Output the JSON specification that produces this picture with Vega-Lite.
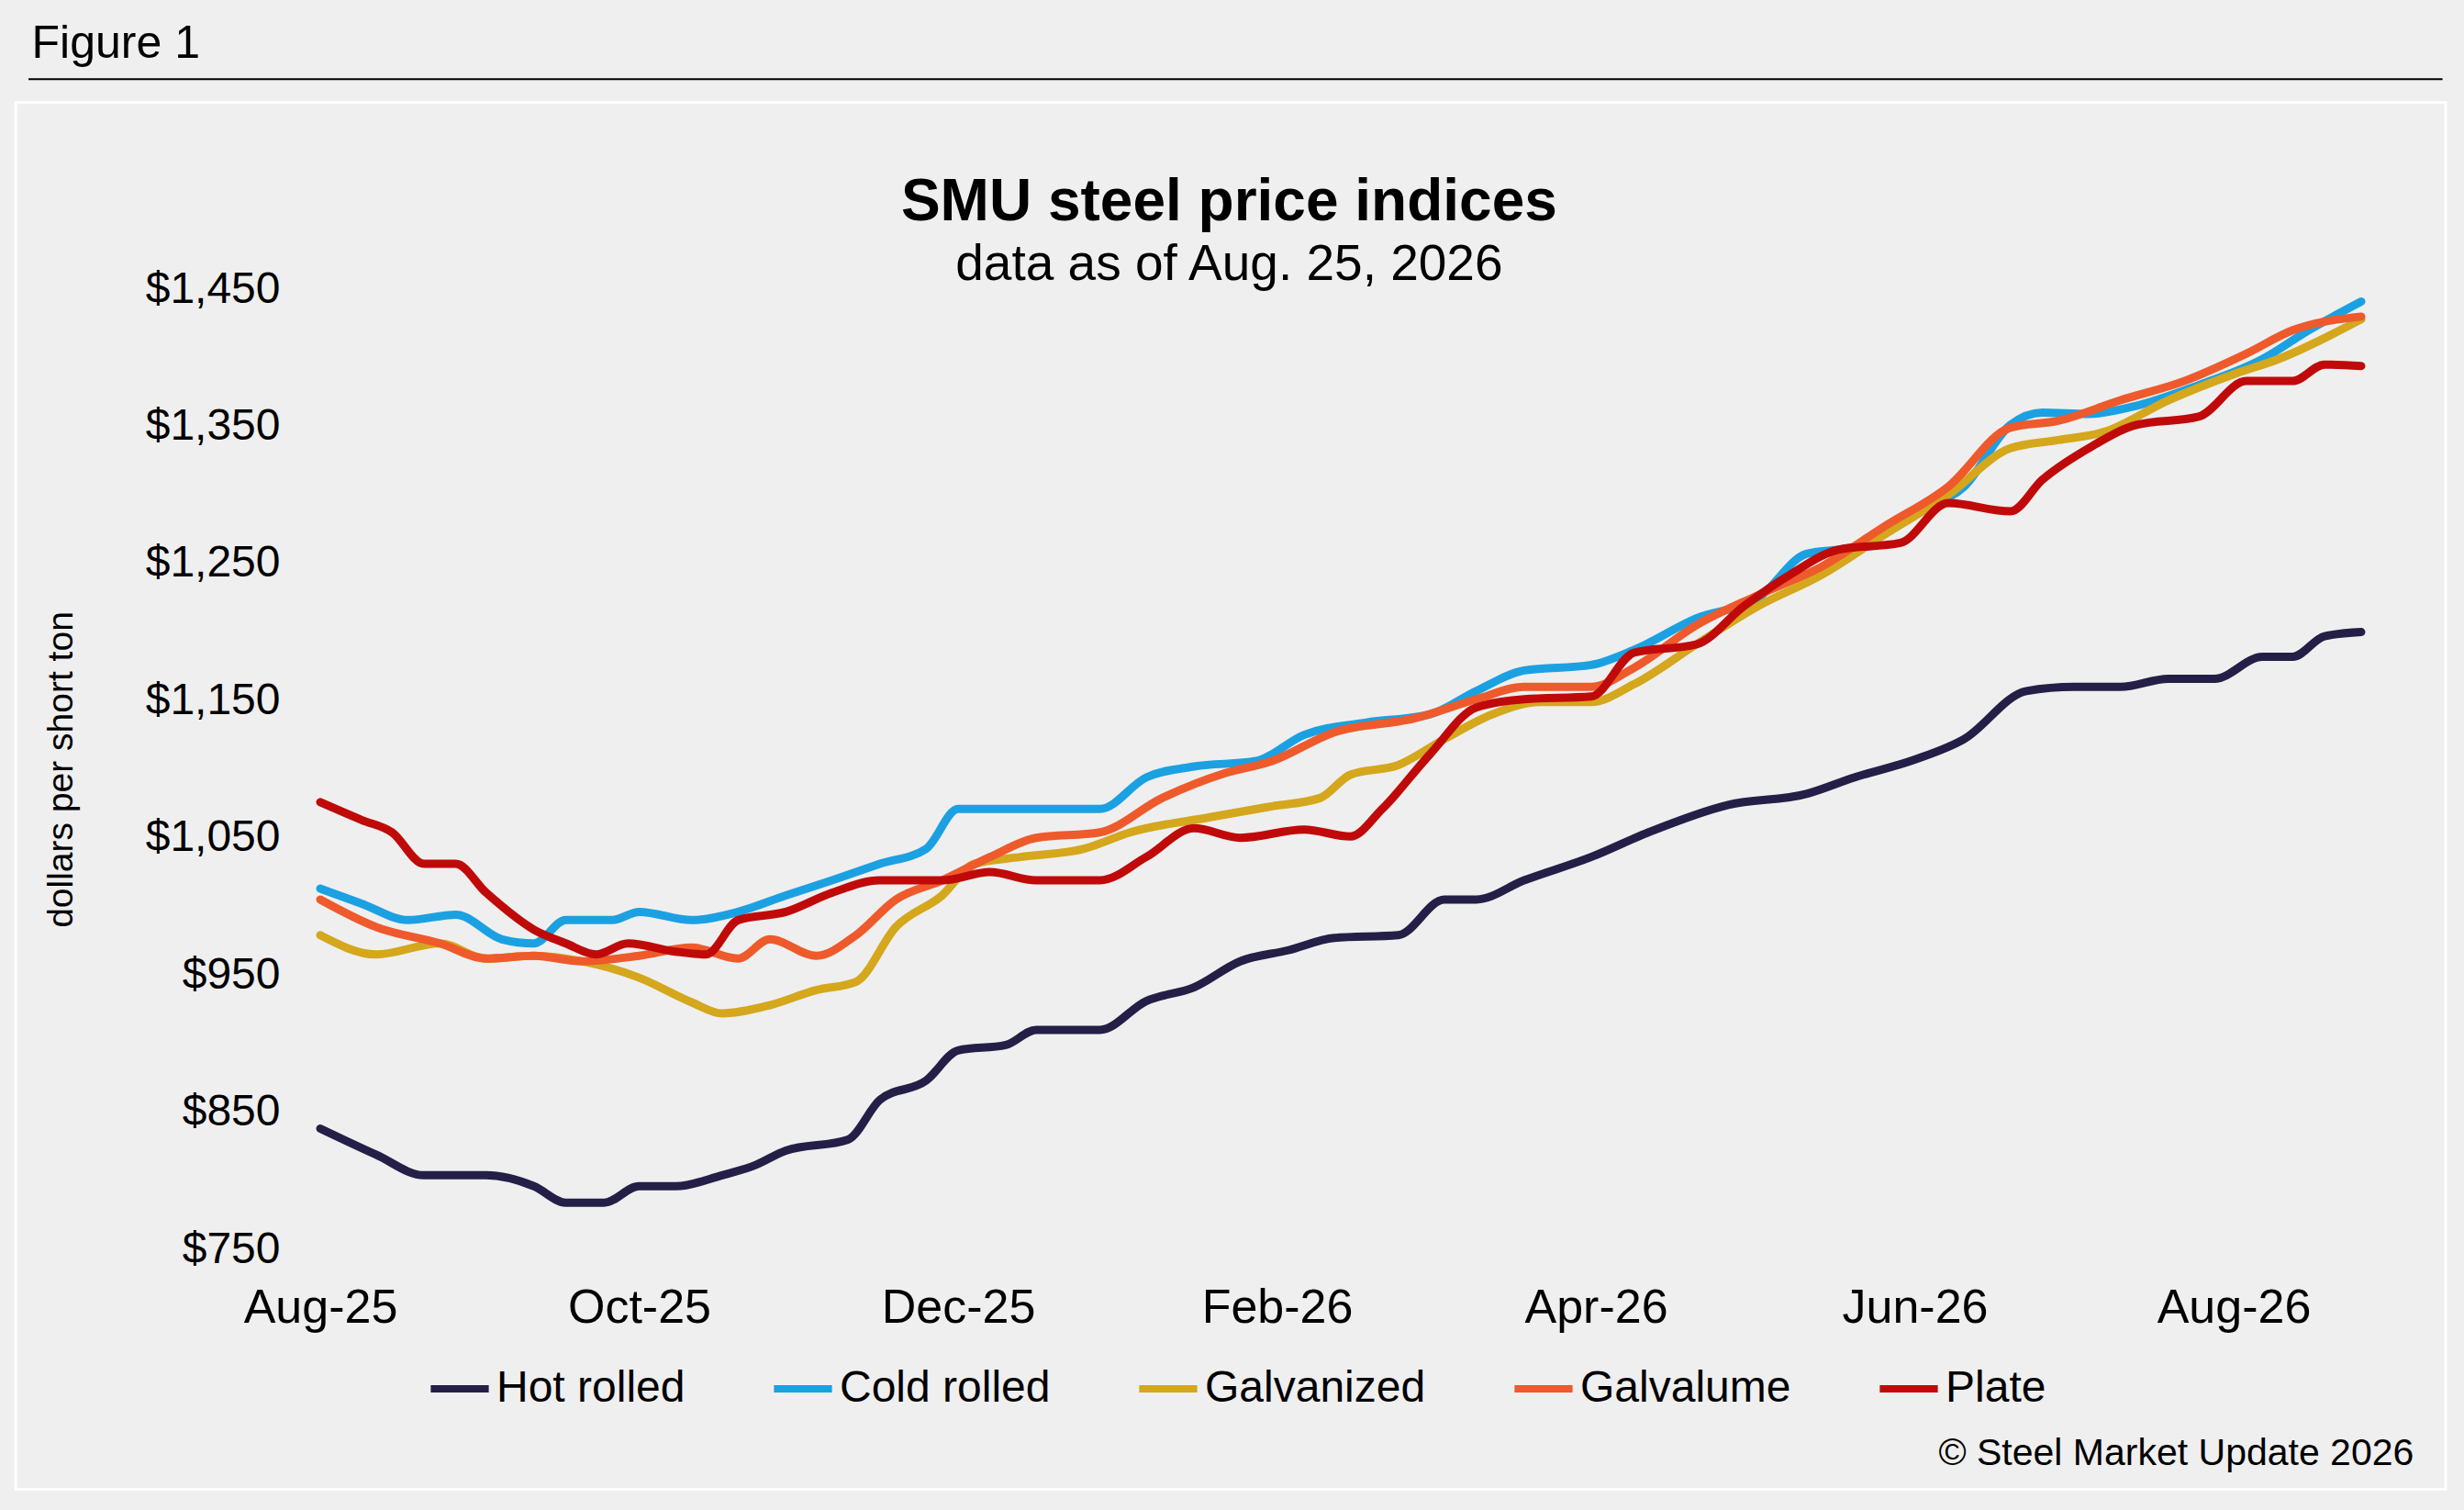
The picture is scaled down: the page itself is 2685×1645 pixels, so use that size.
{
  "$schema": "https://vega.github.io/schema/vega-lite/v6.json",
  "width": 2224,
  "height": 1046,
  "autosize": {"type": "none"},
  "padding": {"left": 349, "top": 315, "right": 112, "bottom": 284},
  "background": "#efefef",
  "config": {
    "font": "Liberation Sans",
    "view": {"stroke": null}
  },
  "layer": [
    {
      "data": {"values": [{"a": 1}]},
      "mark": {"type": "rect", "fill": null, "stroke": "#ffffff", "strokeWidth": 3, "clip": false},
      "encoding": {
        "x": {"datum": -1.91, "type": "quantitative"},
        "x2": {"datum": 13.33},
        "y": {"datum": 1586, "type": "quantitative"},
        "y2": {"datum": 575}
      }
    },
    {
      "data": {"values": [{"a": 1}]},
      "mark": {"type": "rule", "stroke": "#000", "strokeWidth": 2, "clip": false},
      "encoding": {
        "x": {"datum": -1.83, "type": "quantitative"},
        "x2": {"datum": 13.31},
        "y": {"datum": 1603, "type": "quantitative"}
      }
    },
    {
      "data": {"values": [{"t": "Figure 1", "m": -1.81, "v": 1629}]},
      "mark": {"type": "text", "align": "left", "baseline": "middle", "fontSize": 50, "color": "#000", "clip": false},
      "encoding": {
        "x": {"field": "m", "type": "quantitative"},
        "y": {"field": "v", "type": "quantitative"},
        "text": {"field": "t"}
      }
    },
    {
      "data": {"values": [{"t": "SMU steel price indices", "m": 5.7, "v": 1513}]},
      "mark": {"type": "text", "align": "center", "baseline": "middle", "fontSize": 64, "fontWeight": "bold", "color": "#000", "clip": false},
      "encoding": {
        "x": {"field": "m", "type": "quantitative"},
        "y": {"field": "v", "type": "quantitative"},
        "text": {"field": "t"}
      }
    },
    {
      "data": {"values": [{"t": "data as of Aug. 25, 2026", "m": 5.7, "v": 1468}]},
      "mark": {"type": "text", "align": "center", "baseline": "middle", "fontSize": 55, "color": "#000", "clip": false},
      "encoding": {
        "x": {"field": "m", "type": "quantitative"},
        "y": {"field": "v", "type": "quantitative"},
        "text": {"field": "t"}
      }
    },
    {
      "data": {"values": [{"t": "© Steel Market Update 2026", "m": 13.13, "v": 601}]},
      "mark": {"type": "text", "align": "right", "baseline": "middle", "fontSize": 41, "color": "#000", "clip": false},
      "encoding": {
        "x": {"field": "m", "type": "quantitative"},
        "y": {"field": "v", "type": "quantitative"},
        "text": {"field": "t"}
      }
    },
    {
      "data": {"values": [
        {"s":"Hot rolled","m":0,"v":838},{"s":"Hot rolled","m":0.35,"v":819},{"s":"Hot rolled","m":0.65,"v":804},{"s":"Hot rolled","m":1.04,"v":804},{"s":"Hot rolled","m":1.34,"v":796},{"s":"Hot rolled","m":1.54,"v":784},{"s":"Hot rolled","m":1.78,"v":784},{"s":"Hot rolled","m":2,"v":796},{"s":"Hot rolled","m":2.23,"v":796},{"s":"Hot rolled","m":2.52,"v":804},{"s":"Hot rolled","m":2.72,"v":811},{"s":"Hot rolled","m":2.92,"v":822},{"s":"Hot rolled","m":3.31,"v":830},{"s":"Hot rolled","m":3.51,"v":859},{"s":"Hot rolled","m":3.8,"v":873},{"s":"Hot rolled","m":4,"v":895},{"s":"Hot rolled","m":4.3,"v":899},{"s":"Hot rolled","m":4.49,"v":910},{"s":"Hot rolled","m":4.89,"v":910},{"s":"Hot rolled","m":5.18,"v":931},{"s":"Hot rolled","m":5.48,"v":941},{"s":"Hot rolled","m":5.77,"v":960},{"s":"Hot rolled","m":6.07,"v":968},{"s":"Hot rolled","m":6.36,"v":977},{"s":"Hot rolled","m":6.76,"v":979},{"s":"Hot rolled","m":7.05,"v":1005},{"s":"Hot rolled","m":7.25,"v":1005},{"s":"Hot rolled","m":7.55,"v":1019},{"s":"Hot rolled","m":7.97,"v":1036},{"s":"Hot rolled","m":8.33,"v":1054},{"s":"Hot rolled","m":8.83,"v":1074},{"s":"Hot rolled","m":9.32,"v":1082},{"s":"Hot rolled","m":9.62,"v":1094},{"s":"Hot rolled","m":10,"v":1107},{"s":"Hot rolled","m":10.31,"v":1122},{"s":"Hot rolled","m":10.7,"v":1157},{"s":"Hot rolled","m":11,"v":1160},{"s":"Hot rolled","m":11.29,"v":1160},{"s":"Hot rolled","m":11.59,"v":1166},{"s":"Hot rolled","m":11.88,"v":1166},{"s":"Hot rolled","m":12.18,"v":1182},{"s":"Hot rolled","m":12.37,"v":1182},{"s":"Hot rolled","m":12.57,"v":1197},{"s":"Hot rolled","m":12.8,"v":1200},

        {"s":"Cold rolled","m":0,"v":1013},{"s":"Cold rolled","m":0.26,"v":1002},{"s":"Cold rolled","m":0.55,"v":990},{"s":"Cold rolled","m":0.85,"v":994},{"s":"Cold rolled","m":1.14,"v":976},{"s":"Cold rolled","m":1.34,"v":973},{"s":"Cold rolled","m":1.54,"v":990},{"s":"Cold rolled","m":1.83,"v":990},{"s":"Cold rolled","m":2,"v":996},{"s":"Cold rolled","m":2.33,"v":990},{"s":"Cold rolled","m":2.62,"v":996},{"s":"Cold rolled","m":2.92,"v":1008},{"s":"Cold rolled","m":3.21,"v":1019},{"s":"Cold rolled","m":3.51,"v":1031},{"s":"Cold rolled","m":3.8,"v":1042},{"s":"Cold rolled","m":4,"v":1071},{"s":"Cold rolled","m":4.39,"v":1071},{"s":"Cold rolled","m":4.89,"v":1071},{"s":"Cold rolled","m":5.18,"v":1094},{"s":"Cold rolled","m":5.48,"v":1102},{"s":"Cold rolled","m":5.87,"v":1106},{"s":"Cold rolled","m":6.17,"v":1125},{"s":"Cold rolled","m":6.56,"v":1134},{"s":"Cold rolled","m":6.96,"v":1140},{"s":"Cold rolled","m":7.25,"v":1157},{"s":"Cold rolled","m":7.55,"v":1172},{"s":"Cold rolled","m":7.97,"v":1176},{"s":"Cold rolled","m":8.24,"v":1187},{"s":"Cold rolled","m":8.63,"v":1210},{"s":"Cold rolled","m":9.02,"v":1225},{"s":"Cold rolled","m":9.32,"v":1257},{"s":"Cold rolled","m":9.62,"v":1262},{"s":"Cold rolled","m":10,"v":1288},{"s":"Cold rolled","m":10.31,"v":1306},{"s":"Cold rolled","m":10.6,"v":1351},{"s":"Cold rolled","m":10.8,"v":1360},{"s":"Cold rolled","m":11.09,"v":1359},{"s":"Cold rolled","m":11.39,"v":1365},{"s":"Cold rolled","m":11.78,"v":1380},{"s":"Cold rolled","m":12.18,"v":1399},{"s":"Cold rolled","m":12.47,"v":1420},{"s":"Cold rolled","m":12.8,"v":1441},

        {"s":"Galvanized","m":0,"v":979},{"s":"Galvanized","m":0.35,"v":965},{"s":"Galvanized","m":0.75,"v":973},{"s":"Galvanized","m":1.04,"v":962},{"s":"Galvanized","m":1.34,"v":964},{"s":"Galvanized","m":1.64,"v":960},{"s":"Galvanized","m":2,"v":948},{"s":"Galvanized","m":2.33,"v":930},{"s":"Galvanized","m":2.52,"v":922},{"s":"Galvanized","m":2.82,"v":928},{"s":"Galvanized","m":3.11,"v":939},{"s":"Galvanized","m":3.36,"v":945},{"s":"Galvanized","m":3.61,"v":985},{"s":"Galvanized","m":3.9,"v":1008},{"s":"Galvanized","m":4.1,"v":1031},{"s":"Galvanized","m":4.39,"v":1036},{"s":"Galvanized","m":4.79,"v":1042},{"s":"Galvanized","m":5.08,"v":1054},{"s":"Galvanized","m":5.58,"v":1065},{"s":"Galvanized","m":5.97,"v":1073},{"s":"Galvanized","m":6.27,"v":1079},{"s":"Galvanized","m":6.46,"v":1096},{"s":"Galvanized","m":6.76,"v":1103},{"s":"Galvanized","m":7.05,"v":1122},{"s":"Galvanized","m":7.35,"v":1140},{"s":"Galvanized","m":7.65,"v":1149},{"s":"Galvanized","m":7.97,"v":1149},{"s":"Galvanized","m":8.24,"v":1162},{"s":"Galvanized","m":8.63,"v":1191},{"s":"Galvanized","m":9.02,"v":1219},{"s":"Galvanized","m":9.42,"v":1242},{"s":"Galvanized","m":9.81,"v":1271},{"s":"Galvanized","m":10.21,"v":1300},{"s":"Galvanized","m":10.6,"v":1334},{"s":"Galvanized","m":10.9,"v":1340},{"s":"Galvanized","m":11.19,"v":1346},{"s":"Galvanized","m":11.59,"v":1369},{"s":"Galvanized","m":12,"v":1388},{"s":"Galvanized","m":12.28,"v":1399},{"s":"Galvanized","m":12.8,"v":1428},

        {"s":"Galvalume","m":0,"v":1005},{"s":"Galvalume","m":0.35,"v":985},{"s":"Galvalume","m":0.75,"v":973},{"s":"Galvalume","m":1.04,"v":962},{"s":"Galvalume","m":1.34,"v":964},{"s":"Galvalume","m":1.64,"v":960},{"s":"Galvalume","m":2,"v":964},{"s":"Galvalume","m":2.33,"v":970},{"s":"Galvalume","m":2.62,"v":962},{"s":"Galvalume","m":2.82,"v":976},{"s":"Galvalume","m":3.11,"v":964},{"s":"Galvalume","m":3.36,"v":979},{"s":"Galvalume","m":3.61,"v":1005},{"s":"Galvalume","m":3.9,"v":1019},{"s":"Galvalume","m":4.2,"v":1036},{"s":"Galvalume","m":4.49,"v":1050},{"s":"Galvalume","m":4.89,"v":1054},{"s":"Galvalume","m":5.28,"v":1079},{"s":"Galvalume","m":5.67,"v":1097},{"s":"Galvalume","m":5.97,"v":1106},{"s":"Galvalume","m":6.36,"v":1127},{"s":"Galvalume","m":6.86,"v":1137},{"s":"Galvalume","m":7.25,"v":1151},{"s":"Galvalume","m":7.55,"v":1160},{"s":"Galvalume","m":7.97,"v":1160},{"s":"Galvalume","m":8.24,"v":1174},{"s":"Galvalume","m":8.63,"v":1205},{"s":"Galvalume","m":9.02,"v":1227},{"s":"Galvalume","m":9.42,"v":1248},{"s":"Galvalume","m":9.81,"v":1277},{"s":"Galvalume","m":10.21,"v":1306},{"s":"Galvalume","m":10.6,"v":1349},{"s":"Galvalume","m":10.9,"v":1354},{"s":"Galvalume","m":11.29,"v":1369},{"s":"Galvalume","m":11.69,"v":1383},{"s":"Galvalume","m":12.08,"v":1403},{"s":"Galvalume","m":12.37,"v":1420},{"s":"Galvalume","m":12.8,"v":1430},

        {"s":"Plate","m":0,"v":1076},{"s":"Plate","m":0.26,"v":1063},{"s":"Plate","m":0.45,"v":1054},{"s":"Plate","m":0.65,"v":1031},{"s":"Plate","m":0.85,"v":1031},{"s":"Plate","m":1.04,"v":1010},{"s":"Plate","m":1.34,"v":983},{"s":"Plate","m":1.54,"v":973},{"s":"Plate","m":1.73,"v":965},{"s":"Plate","m":1.93,"v":973},{"s":"Plate","m":2.23,"v":967},{"s":"Plate","m":2.42,"v":965},{"s":"Plate","m":2.62,"v":990},{"s":"Plate","m":2.92,"v":996},{"s":"Plate","m":3.21,"v":1010},{"s":"Plate","m":3.51,"v":1019},{"s":"Plate","m":3.9,"v":1019},{"s":"Plate","m":4.2,"v":1025},{"s":"Plate","m":4.49,"v":1019},{"s":"Plate","m":4.89,"v":1019},{"s":"Plate","m":5.18,"v":1036},{"s":"Plate","m":5.48,"v":1057},{"s":"Plate","m":5.77,"v":1050},{"s":"Plate","m":6.17,"v":1056},{"s":"Plate","m":6.46,"v":1051},{"s":"Plate","m":6.66,"v":1071},{"s":"Plate","m":6.96,"v":1111},{"s":"Plate","m":7.25,"v":1145},{"s":"Plate","m":7.55,"v":1151},{"s":"Plate","m":7.97,"v":1153},{"s":"Plate","m":8.24,"v":1185},{"s":"Plate","m":8.63,"v":1191},{"s":"Plate","m":8.93,"v":1219},{"s":"Plate","m":9.22,"v":1242},{"s":"Plate","m":9.52,"v":1260},{"s":"Plate","m":9.91,"v":1265},{"s":"Plate","m":10.21,"v":1294},{"s":"Plate","m":10.6,"v":1288},{"s":"Plate","m":10.8,"v":1311},{"s":"Plate","m":11.09,"v":1334},{"s":"Plate","m":11.39,"v":1351},{"s":"Plate","m":11.78,"v":1357},{"s":"Plate","m":12.08,"v":1383},{"s":"Plate","m":12.37,"v":1383},{"s":"Plate","m":12.57,"v":1395},{"s":"Plate","m":12.8,"v":1394}
      ]},
      "mark": {"type": "line", "interpolate": "monotone", "strokeWidth": 9, "strokeCap": "round"},
      "encoding": {
        "x": {
          "field": "m",
          "type": "quantitative",
          "scale": {"domain": [0, 12.8], "nice": false, "zero": false},
          "axis": {
            "title": null,
            "values": [0, 2, 4, 6, 8, 10, 12],
            "labelExpr": "['Aug-25','Oct-25','Dec-25','Feb-26','Apr-26','Jun-26','Aug-26'][datum.value / 2]",
            "grid": false, "domain": false, "ticks": false,
            "labelFontSize": 52, "labelColor": "#000", "labelPadding": 38,
            "labelFlush": false
          }
        },
        "y": {
          "field": "v",
          "type": "quantitative",
          "scale": {"domain": [750, 1450], "nice": false, "zero": false},
          "axis": {
            "title": "dollars per short ton",
            "titleFontSize": 39, "titleFontWeight": "normal", "titleColor": "#000", "titlePadding": 72,
            "values": [750, 850, 950, 1050, 1150, 1250, 1350, 1450],
            "format": "$,.0f",
            "grid": false, "domain": false, "ticks": false,
            "labelFontSize": 48, "labelColor": "#000", "labelPadding": 44
          }
        },
        "color": {
          "field": "s",
          "type": "nominal",
          "scale": {
            "domain": ["Hot rolled", "Cold rolled", "Galvanized", "Galvalume", "Plate"],
            "range": ["#231f47", "#1ba1e2", "#d4a71c", "#ee5a2c", "#c00a0a"]
          },
          "legend": {
            "title": null,
            "orient": "none",
            "legendX": 116,
            "legendY": 1162,
            "direction": "horizontal",
            "symbolType": "stroke",
            "symbolStrokeWidth": 8,
            "symbolSize": 4000,
            "labelFontSize": 48,
            "labelColor": "#000",
            "labelLimit": 0,
            "columnPadding": 80,
            "labelOffset": 4
          }
        }
      }
    }
  ]
}
